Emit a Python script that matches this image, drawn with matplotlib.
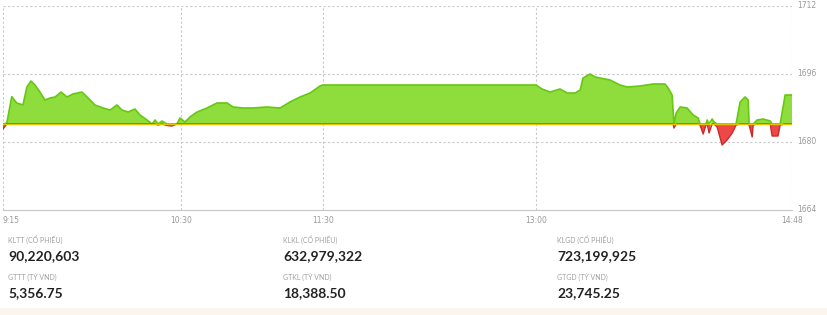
import numpy as np
import matplotlib
matplotlib.use("Agg")
import matplotlib.pyplot as plt

# DỮ LIỆU (phút tính từ 0:00, giá trị chỉ số)
phut = [555.0, 556.6, 558.7, 560.8, 563.4, 565.1, 566.8, 568.5, 570.6, 572.7,
        574.8, 577.0, 579.5, 582.0, 584.5, 588.3, 590.5, 593.8, 597.2, 600.2,
        603.1, 605.2, 607.8, 610.7, 612.8, 615.8, 617.9, 619.2, 620.4, 622.1,
        624.2, 626.3, 628.4, 629.7, 631.8, 633.9, 636.9, 641.1, 645.3, 649.6,
        652.1, 656.3, 660.5, 666.4, 671.9, 676.1, 680.4, 684.6, 688.8, 690.0,
        780.0, 782.5, 785.9, 790.1, 793.1, 796.5, 798.6, 799.8, 802.8, 804.9,
        807.0, 811.2, 815.4, 818.4, 823.9, 829.4, 834.4, 835.7, 837.4, 837.8,
        838.2, 839.1, 840.8, 843.7, 846.3, 848.4, 849.2, 850.5, 851.7, 852.2,
        853.0, 854.3, 855.1, 856.4, 858.5, 860.6, 862.8, 864.4, 866.1, 868.2,
        869.5, 869.9, 871.2, 871.6, 873.3, 875.8, 878.8, 879.6, 882.1, 883.0,
        885.1, 888.0]
chi_so = [1683.06, 1684.47, 1690.66, 1689.18, 1688.71, 1692.94, 1694.35, 1693.41, 1691.76, 1689.88,
          1690.35, 1690.59, 1691.76, 1690.59, 1691.29, 1691.76, 1690.59, 1688.71, 1688.00, 1687.53,
          1688.71, 1687.53, 1687.06, 1687.76, 1686.35, 1685.18, 1684.24, 1685.18, 1684.00, 1684.94,
          1683.88, 1683.76, 1684.24, 1685.65, 1684.71, 1685.88, 1687.06, 1688.00, 1689.18, 1689.18,
          1688.24, 1688.00, 1688.00, 1688.24, 1688.00, 1689.41, 1690.59, 1691.53, 1693.18, 1693.41,
          1693.41, 1692.47, 1691.76, 1692.47, 1691.53, 1691.53, 1692.24, 1695.06, 1696.00, 1695.29,
          1695.06, 1694.59, 1693.41, 1692.94, 1693.18, 1693.65, 1693.65, 1692.71, 1691.06, 1687.53,
          1683.29, 1686.82, 1688.24, 1688.00, 1686.35, 1685.65, 1684.00, 1681.88, 1684.00, 1685.18,
          1682.12, 1685.41, 1684.71, 1683.53, 1679.29, 1680.47, 1682.12, 1684.00, 1689.41, 1690.59,
          1689.88, 1684.00, 1681.18, 1684.00, 1685.18, 1685.41, 1684.94, 1681.41, 1681.41, 1684.00,
          1691.06, 1691.06]
tham_chieu = 1684.24

moc_gio = [555, 630, 690, 780, 888]
nhan_gio = ["9:15", "10:30", "11:30", "13:00", "14:48"]
moc_y = [1664, 1680, 1696, 1712]

nhan_tk = ["KLTT (CỔ PHIẾU)", "KLKL (CỔ PHIẾU)", "KLGD (CỔ PHIẾU)",
           "GTTT (TỶ VND)", "GTKL (TỶ VND)", "GTGD (TỶ VND)"]
gia_tri_tk = ["90,220,603", "632,979,322", "723,199,925",
              "5,356.75", "18,388.50", "23,745.25"]

# VẼ BIỂU ĐỒ
t = np.array(phut)
v = np.array(chi_so)

fig = plt.figure(figsize=(8.27, 3.15), dpi=100)
ax = fig.add_axes([3 / 827, 1 - 210 / 315, 789 / 827, 204 / 315])

ax.fill_between(t, v, tham_chieu, where=v >= tham_chieu, interpolate=True,
                color="#8fdd3c", lw=0, zorder=2)
ax.fill_between(t, v, tham_chieu, where=v <= tham_chieu, interpolate=True,
                color="#ee4747", lw=0, zorder=2)
ax.plot(t, np.maximum(v, tham_chieu), color="#66c810", lw=1.2, zorder=3)
ax.plot(t, np.minimum(v, tham_chieu), color="#cc2a2a", lw=1.0, zorder=3)
ax.axhline(tham_chieu, color="#e6c200", lw=1.0, zorder=4)

ax.set_xlim(555, 888)
ax.set_ylim(1664, 1712)
ax.set_xticks(moc_gio)
ax.set_xticklabels(nhan_gio)
ax.set_yticks(moc_y)
ax.yaxis.tick_right()
ax.tick_params(length=0, labelsize=5.5, colors="#999999", pad=4)
for lbl in ax.get_xticklabels():
    lbl.set_color("#999999")
ax.get_xticklabels()[0].set_ha("left")
for lbl in ax.get_yticklabels():
    lbl.set_color("#999999")
    lbl.set_va("center")

ax.grid(True, color="#c8c8c8", ls=(0, (2, 2)), lw=0.8)
for s in ["left", "right", "top"]:
    ax.spines[s].set_visible(False)
ax.spines["bottom"].set_color("#c8c8c8")
ax.spines["bottom"].set_linewidth(0.8)

# THỐNG KÊ
cot_x = [8, 283, 557]
for i, (nhan, gt) in enumerate(zip(nhan_tk, gia_tri_tk)):
    x = cot_x[i % 3] / 827
    y0 = 240 if i < 3 else 277
    fig.text(x, 1 - y0 / 315, nhan, fontsize=5, color="#a0a0a0",
             va="center", ha="left", family="Lato")
    fig.text(x, 1 - (y0 + 16) / 315, gt, fontsize=10, color="#222222",
             weight="bold", va="center", ha="left", family="Lato")

fig.patches.append(plt.Rectangle((0, 0), 1, 7 / 315, transform=fig.transFigure,
                                 color="#faf6ee", zorder=0))

fig.savefig("out.png", dpi=100)
